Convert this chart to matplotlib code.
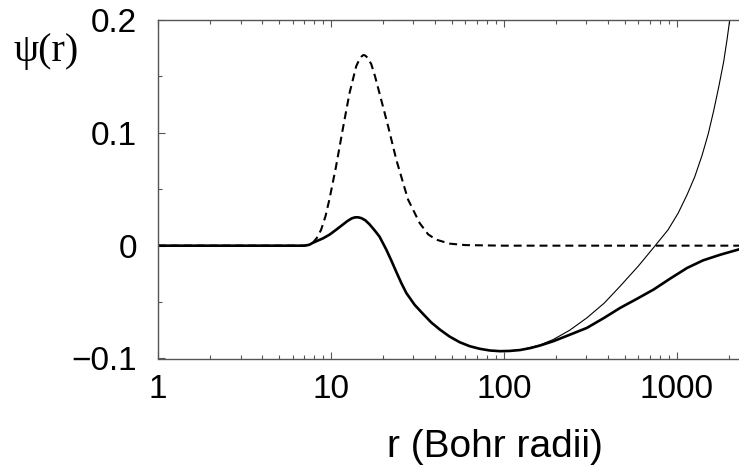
import matplotlib
matplotlib.use("Agg")
import matplotlib.pyplot as plt
from matplotlib.ticker import FixedLocator, NullFormatter, FixedFormatter

# ---- data ----
r_dashed = [1, 5, 7.0, 7.4, 7.85, 8.3, 8.77, 9.3, 9.8, 10.7, 11.7, 12.8, 14.0, 14.6,
            15.0, 15.4, 15.8, 16.3, 17.1, 18.0, 19.1, 21.4, 23.9, 27.9, 32.6, 36.5,
            40.7, 48.6, 60, 100, 2300]
psi_dashed = [0, 0, 0.0, 0.0006, 0.0024, 0.0070, 0.014, 0.026, 0.041, 0.070, 0.103, 0.135,
              0.159, 0.165, 0.1675, 0.169, 0.1685, 0.1665, 0.161, 0.150, 0.135, 0.106,
              0.076, 0.041, 0.020, 0.010, 0.0053, 0.0018, 0.0005, 0, 0]

r_thick = [1, 7.0, 7.5, 7.85, 8.4, 9.0, 9.8, 10.7, 11.7, 12.5, 13.2, 13.8, 14.4, 15.0,
           15.8, 16.7, 17.8, 19.1, 20.9, 22.4, 24.0, 25.6, 27.3, 30.5, 34.1, 38.0, 42.6,
           48.5, 55.6, 63.5, 72.6, 83, 94.8, 108, 124, 142, 162, 193, 240, 302, 380, 470,
           590, 734, 920, 1146, 1420, 1787, 2300]
psi_thick = [0, 0, 0.0008, 0.0025, 0.0045, 0.0065, 0.0097, 0.014, 0.0186, 0.0220, 0.0242,
             0.0251, 0.0251, 0.0244, 0.0225, 0.0190, 0.0140, 0.0080, -0.0035, -0.0135,
             -0.024, -0.0335, -0.042, -0.0525, -0.0605, -0.068, -0.0743, -0.0805,
             -0.0856, -0.0891, -0.0914, -0.0929, -0.0935, -0.0933, -0.0925, -0.0908,
             -0.0885, -0.0847, -0.079, -0.0729, -0.064, -0.0552, -0.047, -0.0389, -0.029,
             -0.0198, -0.013, -0.0080, -0.0032]

r_thin = [94.8, 124, 162, 193, 240, 302, 380, 470, 600, 750, 890, 1020, 1146, 1270,
          1400, 1520, 1637, 1750, 1867, 1950, 2024, 2150]
psi_thin = [-0.0935, -0.0925, -0.0880, -0.0832, -0.075, -0.064, -0.051, -0.036, -0.018,
            0.0, 0.014, 0.029, 0.045, 0.061, 0.080, 0.099, 0.120, 0.141, 0.163, 0.182,
            0.200, 0.232]

xticks = [1, 10, 100, 1000]
xticklabels = ["1", "10", "100", "1000"]
yticks = [-0.1, 0, 0.1, 0.2]
yticklabels = ["\u22120.1", "0", "0.1", "0.2"]

# ---- figure ----
W, H = 739, 466
fig = plt.figure(figsize=(W / 100, H / 100), dpi=100)
ax = fig.add_axes([158 / W, 1 - 358.5 / H, 1 - 158 / W, 338.5 / H])

ax.plot(r_thin, psi_thin, color="black", lw=0.8)
ax.plot(r_thick, psi_thick, color="black", lw=1.9)
ax.plot(r_dashed, psi_dashed, color="black", lw=1.5, dashes=(3.8, 2.4))

ax.set_xscale("log")
ax.set_xlim(1, 2290)
ax.set_ylim(-0.1, 0.2)

ax.xaxis.set_major_locator(FixedLocator(xticks))
ax.xaxis.set_major_formatter(FixedFormatter(xticklabels))
minors = [m * 10 ** e for e in range(0, 4) for m in range(2, 10)]
ax.xaxis.set_minor_locator(FixedLocator(minors))
ax.xaxis.set_minor_formatter(NullFormatter())
ax.yaxis.set_major_locator(FixedLocator(yticks))
ax.yaxis.set_major_formatter(FixedFormatter(yticklabels))
ax.yaxis.set_minor_locator(FixedLocator([-0.05, 0.05, 0.15]))

for s in ["left", "bottom", "top"]:
    ax.spines[s].set_color("#555555")
    ax.spines[s].set_linewidth(1.0)
ax.spines["right"].set_visible(False)

tfont = "Liberation Sans"
ax.tick_params(axis="both", which="major", direction="in", length=5, width=0.8,
               color="#555555", labelsize=24, top=True, right=False)
ax.tick_params(axis="x", which="major", pad=11)
ax.tick_params(axis="y", which="major", pad=15)
ax.tick_params(axis="both", which="minor", direction="in", length=3, width=0.8,
               color="#555555", top=True, right=False)
for lab in ax.get_xticklabels() + ax.get_yticklabels():
    lab.set_fontfamily(tfont)

fig.text(494.5 / W, 1 - 457 / H, "r (Bohr radii)", fontsize=28, fontfamily=tfont,
         ha="center", va="baseline")
fig.text(46 / W, 1 - 51 / H, "\u03c8(r)", fontsize=29, fontfamily="Liberation Serif",
         ha="center", va="center")

fig.savefig("out.png", dpi=100)
